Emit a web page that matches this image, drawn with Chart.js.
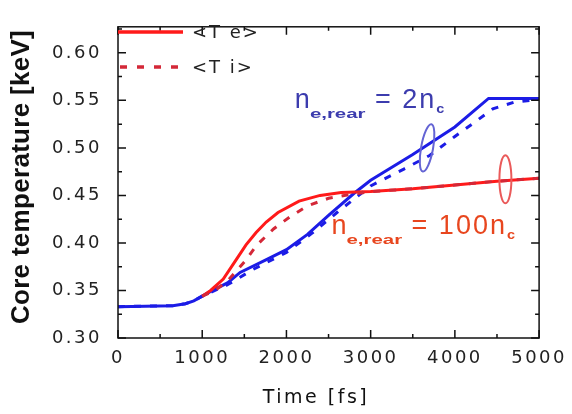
<!DOCTYPE html>
<html>
<head>
<meta charset="utf-8">
<script src="https://cdn.jsdelivr.net/npm/chart.js@4/dist/chart.umd.min.js"></script>
<style>
  html, body { margin: 0; padding: 0; background: #fff; }
  #wrap { width: 572px; height: 414px; }
</style>
</head>
<body>
<div id="wrap"><canvas id="chart" width="572" height="414"></canvas></div>
<script>
// time axis [fs] and core temperature [keV]
const timeBlueTe = [0, 650, 800, 900, 1000, 1100, 1300, 1450, 1750, 2000, 2250, 2500, 2800, 3000, 3500, 4000, 4400, 5000];
const tempBlueTe = [0.333, 0.334, 0.336, 0.339, 0.344, 0.349, 0.358, 0.369, 0.382, 0.393, 0.409, 0.429, 0.452, 0.466, 0.493, 0.522, 0.552, 0.552];

const timeBlueTi = [0, 650, 800, 900, 1000, 1300, 1600, 2000, 2300, 2600, 3000, 3400, 3700, 4000, 4250, 4450, 4700, 5000];
const tempBlueTi = [0.333, 0.334, 0.336, 0.339, 0.344, 0.356, 0.372, 0.390, 0.410, 0.432, 0.460, 0.478, 0.492, 0.512, 0.528, 0.541, 0.548, 0.551];

const timeRedTe = [1000, 1100, 1250, 1400, 1520, 1640, 1760, 1900, 2150, 2400, 2650, 3000, 3500, 4000, 4500, 5000];
const tempRedTe = [0.344, 0.350, 0.362, 0.382, 0.398, 0.411, 0.422, 0.432, 0.444, 0.450, 0.453, 0.454, 0.457, 0.461, 0.465, 0.468];

const timeRedTi = [1000, 1150, 1300, 1500, 1650, 1850, 2050, 2250, 2500, 2750, 3000, 3500, 4000, 4500, 5000];
const tempRedTi = [0.344, 0.350, 0.360, 0.380, 0.398, 0.415, 0.428, 0.439, 0.447, 0.451, 0.454, 0.457, 0.461, 0.465, 0.468];

const xTicks = [0, 1000, 2000, 3000, 4000, 5000];
const xMinorTicks = [500, 1500, 2500, 3500, 4500];
const yTicks = [0.30, 0.35, 0.40, 0.45, 0.50, 0.55, 0.60];
const yMinorTicks = [0.325, 0.375, 0.425, 0.475, 0.525, 0.575, 0.625];

const legendLabels = ["<T e>", "<T i>"];
const xTitle = "Time [fs]";
const yTitle = "Core temperature [keV]";

const RED = "#ff1a1a";
const RED_DASH = "#d42838";
const BLUE = "#1c1ce6";

function pts(xs, ys) {
  return xs.map((x, i) => ({ x: x, y: ys[i] }));
}

function drawLabel(ctx, x, y, parts, color) {
  ctx.fillStyle = color;
  ctx.textBaseline = "alphabetic";
  ctx.textAlign = "left";
  parts.forEach((p) => {
    ctx.save();
    ctx.font = p.font;
    ctx.letterSpacing = (p.spacing || 0) + "px";
    const sx = p.sx || 1;
    ctx.translate(x, y + (p.dy || 0));
    ctx.scale(sx, 1);
    ctx.fillText(p.t, 0, 0);
    const w = ctx.measureText(p.t).width * sx;
    ctx.restore();
    x += w + (p.gap || 0);
  });
}

function subLabel(main) {
  const big = '27px "Liberation Sans"';
  const sub = 'bold 12px "Liberation Sans"';
  return [
    { t: "n", font: big },
    { t: "e,rear", font: sub, dy: 10, sx: 1.7 },
    { t: " = " + main, font: big, spacing: 2 },
    { t: "c", font: sub, dy: 5, sx: 1.2 },
  ];
}

const framePlugin = {
  id: "frame",
  beforeDraw(chart) {
    chart.ctx.letterSpacing = "2.5px";
  },
  afterDatasetsDraw(chart) {
    const ctx = chart.ctx;
    const a = chart.chartArea;
    const xs = chart.scales.x;
    const ys = chart.scales.y;
    ctx.save();
    ctx.letterSpacing = "0px";

    // frame
    ctx.strokeStyle = "#111";
    ctx.lineWidth = 1.5;
    ctx.strokeRect(a.left, a.top, a.right - a.left, a.bottom - a.top);

    // inward ticks on all four sides
    ctx.beginPath();
    const tx = (v, len) => {
      const p = xs.getPixelForValue(v);
      ctx.moveTo(p, a.bottom); ctx.lineTo(p, a.bottom - len);
      ctx.moveTo(p, a.top); ctx.lineTo(p, a.top + len);
    };
    const ty = (v, len) => {
      const p = ys.getPixelForValue(v);
      ctx.moveTo(a.left, p); ctx.lineTo(a.left + len, p);
      ctx.moveTo(a.right, p); ctx.lineTo(a.right - len, p);
    };
    xTicks.forEach((v) => tx(v, 8));
    xMinorTicks.forEach((v) => tx(v, 4));
    yTicks.forEach((v) => ty(v, 8));
    yMinorTicks.forEach((v) => ty(v, 4));
    ctx.stroke();

    // legend
    const ly1 = 32, ly2 = 67;
    ctx.lineWidth = 3.5;
    ctx.strokeStyle = RED;
    ctx.beginPath(); ctx.moveTo(a.left, ly1); ctx.lineTo(a.left + 65, ly1); ctx.stroke();
    ctx.strokeStyle = RED_DASH;
    ctx.setLineDash([7, 10]);
    ctx.beginPath(); ctx.moveTo(a.left + 2, ly2); ctx.lineTo(a.left + 65, ly2); ctx.stroke();
    ctx.setLineDash([]);
    ctx.fillStyle = "#222";
    ctx.font = '18px "DejaVu Sans"';
    ctx.letterSpacing = "2px";
    ctx.textBaseline = "middle";
    ctx.textAlign = "left";
    ctx.fillText(legendLabels[0], a.left + 74, ly1 + 1);
    ctx.fillText(legendLabels[1], a.left + 74, ly2 + 1);

    // ellipses marking the curve pairs
    const ell = (xv, yv, rx, ry, rot, color) => {
      ctx.strokeStyle = color;
      ctx.lineWidth = 2;
      ctx.beginPath();
      ctx.ellipse(xs.getPixelForValue(xv), ys.getPixelForValue(yv), rx, ry, rot, 0, Math.PI * 2);
      ctx.stroke();
    };
    ell(3670, 0.500, 6, 24, 0.18, "#6464d4");
    ell(4600, 0.467, 6, 24, 0, "#ea5a5a");

    // curve labels
    drawLabel(ctx, xs.getPixelForValue(2100), ys.getPixelForValue(0.5416), subLabel("2n"), "#3c3cae");
    drawLabel(ctx, xs.getPixelForValue(2535), ys.getPixelForValue(0.4095), subLabel("100n"), "#e8461e");

    // axis titles
    ctx.fillStyle = "#111";
    ctx.textAlign = "center";
    ctx.textBaseline = "middle";
    ctx.font = '19px "DejaVu Sans"';
    ctx.letterSpacing = "2.5px";
    ctx.fillText(xTitle, 316, 398);

    ctx.save();
    ctx.translate(22, 177);
    ctx.rotate(-Math.PI / 2);
    ctx.font = 'bold 26px "Liberation Sans"';
    ctx.letterSpacing = "0.3px";
    ctx.fillText(yTitle, 0, 0);
    ctx.restore();

    ctx.restore();
  },
};

new Chart(document.getElementById("chart"), {
  type: "line",
  data: {
    datasets: [
      { label: "Ti 100nc", data: pts(timeRedTi, tempRedTi), borderColor: RED_DASH, borderDash: [7, 9], borderWidth: 3 },
      { label: "Te 100nc", data: pts(timeRedTe, tempRedTe), borderColor: RED, borderWidth: 3 },
      { label: "Ti 2nc", data: pts(timeBlueTi, tempBlueTi), borderColor: BLUE, borderDash: [7, 9], borderWidth: 3 },
      { label: "Te 2nc", data: pts(timeBlueTe, tempBlueTe), borderColor: BLUE, borderWidth: 3 },
    ],
  },
  options: {
    responsive: false,
    animation: false,
    devicePixelRatio: 1,
    elements: { point: { radius: 0 }, line: { tension: 0 } },
    layout: { padding: { top: 6, right: 30, left: 0, bottom: 0 } },
    plugins: { legend: { display: false }, tooltip: { enabled: false } },
    scales: {
      x: {
        type: "linear",
        min: 0,
        max: 5000,
        afterFit: (s) => { s.height = 76; },
        afterBuildTicks: (s) => { s.ticks = xTicks.map((v) => ({ value: v })); },
        grid: { display: false, drawTicks: false },
        border: { display: false },
        ticks: { color: "#222", font: { family: "DejaVu Sans", size: 18 }, padding: 10, maxRotation: 0, callback: (v) => String(v) },
      },
      y: {
        type: "linear",
        min: 0.30,
        max: 0.6274,
        afterFit: (s) => { s.width = 118; },
        afterBuildTicks: (s) => { s.ticks = yTicks.map((v) => ({ value: v })); },
        grid: { display: false, drawTicks: false },
        border: { display: false },
        ticks: { color: "#222", font: { family: "DejaVu Sans", size: 18 }, padding: 16, callback: (v) => v.toFixed(2) },
      },
    },
  },
  plugins: [framePlugin],
});
</script>
</body>
</html>
